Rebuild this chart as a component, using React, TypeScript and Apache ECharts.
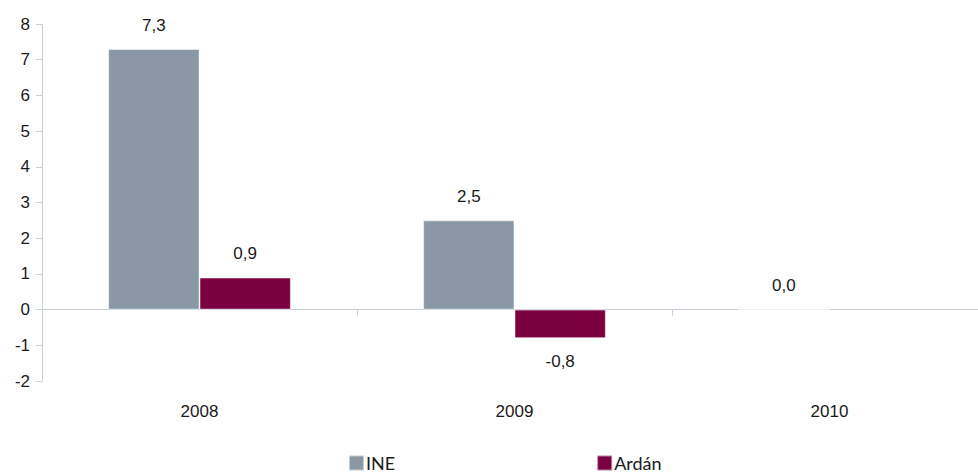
import React, { useEffect, useRef } from "react";
import * as echarts from "echarts";

const categories = ["2008", "2009", "2010"];
const ineValues: (number | null)[] = [7.3, 2.5, 0.0];
const ardanValues: (number | null)[] = [0.9, -0.8, null];
const seriesNames = ["INE", "Ardán"];
const colors = ["#8a97a4", "#7b0040"];

const fmt = (v: number) => v.toFixed(1).replace(".", ",");

export default function App() {
  const ref = useRef<HTMLDivElement>(null);
  useEffect(() => {
    if (!ref.current) return;
    const chart = echarts.init(ref.current, null, { renderer: "svg" });
    const axisColor = "#c9d0da";
    const textStyle = { color: "#1a1a1a", fontFamily: "Liberation Sans, Arial, sans-serif", fontSize: 17 };
    const mkSeries = (name: string, data: (number | null)[], color: string, pos: string) => ({
      name,
      type: "bar",
      data,
      barGap: "0%",
      barCategoryGap: "42%",
      itemStyle: { color, borderColor: "rgba(255,255,255,0.5)", borderWidth: 1 },
      label: {
        show: true,
        position: pos,
        distance: 15,
        formatter: (p: any) => fmt(p.value),
        ...textStyle,
      },
    });
    chart.setOption({
      animation: false,
      backgroundColor: "#ffffff",
      grid: { left: 42, right: -9, top: 24, bottom: 92, containLabel: false, outerBoundsMode: "none" },
      legend: {
        left: 343,
        top: 449,
        itemWidth: 15,
        itemHeight: 15,
        itemGap: 201,
        icon: "rect",
        textStyle: { color: "#1a1a1a", fontFamily: "Lato, sans-serif", fontSize: 18, padding: [0, 0, 0, -3] },
        data: seriesNames,
      },
      xAxis: {
        type: "category",
        data: categories,
        axisLine: { onZero: true, lineStyle: { color: axisColor, width: 1 } },
        axisTick: { show: true, length: 6, lineStyle: { color: axisColor } },
        axisLabel: { margin: 22, ...textStyle },
        splitLine: { show: false },
      },
      yAxis: {
        type: "value",
        min: -2,
        max: 8,
        interval: 1,
        axisLine: { show: true, lineStyle: { color: axisColor, width: 1 } },
        axisTick: { show: true, length: 6, lineStyle: { color: axisColor } },
        axisLabel: { margin: 12, ...textStyle },
        splitLine: { show: false },
      },
      series: [
        mkSeries(seriesNames[0], ineValues, colors[0], "top"),
        mkSeries(seriesNames[1], ardanValues, colors[1], "outside"),
      ],
    });
    return () => chart.dispose();
  }, []);
  return <div ref={ref} style={{ width: 978, height: 473, position: "absolute", left: 0, top: 0 }} />;
}
